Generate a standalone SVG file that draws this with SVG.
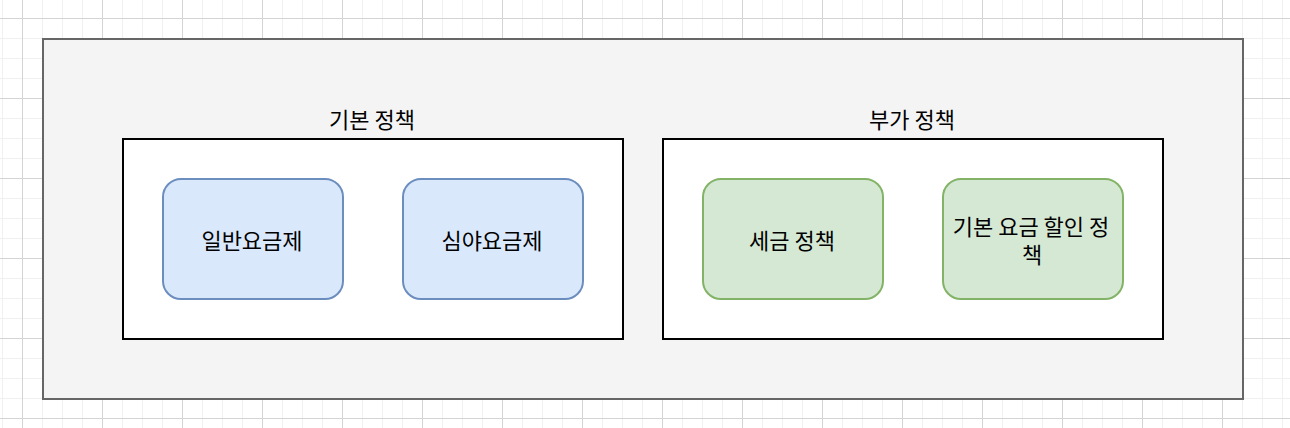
<svg xmlns="http://www.w3.org/2000/svg" width="1290" height="428" viewBox="0 0 1290 428">
<defs>
<pattern id="minor" width="20" height="20" patternUnits="userSpaceOnUse" x="2" y="18">
<path d="M0 0.5H20M0.5 0V20" fill="none" stroke="#f0f0f0" stroke-width="1"/>
</pattern>
<pattern id="major" width="80" height="80" patternUnits="userSpaceOnUse" x="22" y="18">
<path d="M0 0.5H80M0.5 0V80" fill="none" stroke="#d4d4d4" stroke-width="1"/>
</pattern>
</defs>
<style>
text{font-family:"Noto Sans CJK KR","Noto Sans",sans-serif;font-size:22px;fill:#000;text-anchor:middle;dominant-baseline:central}
.inner{fill:#fff;stroke:#000;stroke-width:2}
.blue{fill:#dae8fc;stroke:#6c8ebf;stroke-width:2}
.green{fill:#d5e8d4;stroke:#82b366;stroke-width:2}
</style>
<rect width="1290" height="428" fill="#fff"/>
<rect x="0" y="0" width="1290" height="428" fill="url(#minor)"/>
<rect x="0" y="0" width="1290" height="428" fill="url(#major)"/>
<g id="container">
<rect x="43" y="39" width="1200" height="360" fill="#f4f4f4" stroke="#666" stroke-width="2"/>
</g>
<g id="basic">
<text x="372" y="118">기본 정책</text>
<rect class="inner" x="123" y="139" width="500" height="200"/>
</g>
<g id="extra">
<text x="912" y="118">부가 정책</text>
<rect class="inner" x="663" y="139" width="500" height="200"/>
</g>
<g id="n1">
<rect class="blue" x="163" y="179" width="180" height="120" rx="18"/>
<text x="252" y="239">일반요금제</text>
</g>
<g id="n2">
<rect class="blue" x="403" y="179" width="180" height="120" rx="18"/>
<text x="492" y="239">심야요금제</text>
</g>
<g id="n3">
<rect class="green" x="703" y="179" width="180" height="120" rx="18"/>
<text x="792" y="239">세금 정책</text>
</g>
<g id="n4">
<rect class="green" x="943" y="179" width="180" height="120" rx="18"/>
<text><tspan x="1031" y="225">기본 요금 할인 정</tspan><tspan x="1032" y="253">책</tspan></text>
</g>
<g id="connectors"/>
</svg>
